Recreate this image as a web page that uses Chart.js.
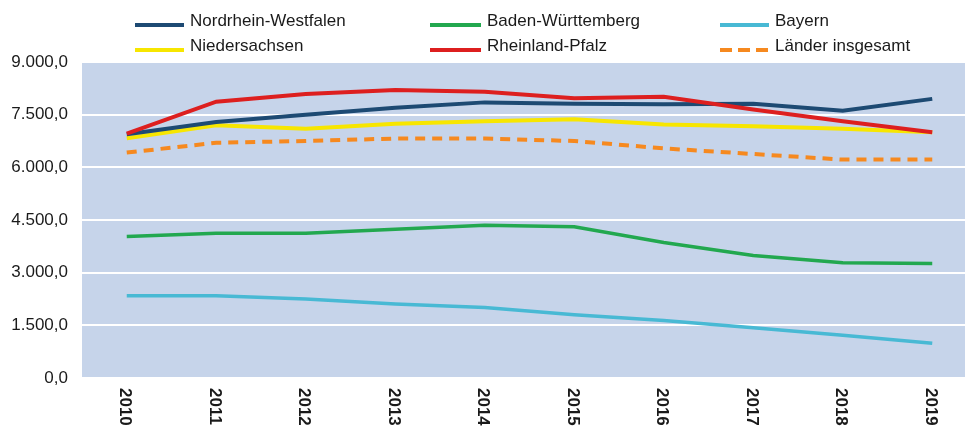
<!DOCTYPE html>
<html lang="de">
<head>
  <meta charset="UTF-8">
  <title>Länder</title>
  <script src="https://cdn.jsdelivr.net/npm/chart.js@4"></script>
  <style>
    html, body { margin: 0; padding: 0; background: #fff; overflow: hidden; }
    #wrap { position: relative; width: 965px; height: 427px; overflow: hidden; }
    #chart { position: absolute; left: 0; top: 0; }
    .lg-line { position: absolute; }
    .lg-text {
      position: absolute;
      font: 17px "Liberation Sans", Arial, sans-serif;
      line-height: 20px;
      color: #1a1a1a;
      white-space: nowrap;
    }
  </style>
</head>
<body>
  <div id="wrap">
    <canvas id="chart" width="977" height="428"></canvas>
    <div id="legend"></div>
  </div>

  <script>
    // values
    const years = ['2010', '2011', '2012', '2013', '2014', '2015', '2016', '2017', '2018', '2019'];
    const nrw = [6940, 7290, 7500, 7700, 7850, 7810, 7800, 7810, 7610, 7950];
    const bw = [4030, 4120, 4120, 4240, 4350, 4310, 3860, 3490, 3280, 3260];
    const bayern = [2340, 2340, 2250, 2110, 2010, 1800, 1640, 1430, 1220, 990];
    const nds = [6830, 7200, 7100, 7240, 7310, 7370, 7220, 7170, 7100, 7000];
    const rlp = [6960, 7870, 8090, 8200, 8150, 7970, 8010, 7650, 7310, 7000];
    const laender = [6420, 6700, 6750, 6820, 6820, 6750, 6540, 6380, 6220, 6220];
    const yTicks = [0, 1500, 3000, 4500, 6000, 7500, 9000];

    const FONT = '"Liberation Sans", Arial, sans-serif';

    function fmt(v) {
      // German style: 9.000,0
      const s = String(Math.round(v)).replace(/\B(?=(\d{3})+(?!\d))/g, '.');
      return s + ',0';
    }

    const datasets = [
      { label: 'Nordrhein-Westfalen', data: nrw, borderColor: '#1d4a73', borderWidth: 4, order: 1 },
      { label: 'Baden-Württemberg', data: bw, borderColor: '#22a84f', borderWidth: 3.5, order: 3 },
      { label: 'Bayern', data: bayern, borderColor: '#48b9d4', borderWidth: 3.5, order: 4 },
      { label: 'Niedersachsen', data: nds, borderColor: '#f7e600', borderWidth: 4, order: 2 },
      { label: 'Rheinland-Pfalz', data: rlp, borderColor: '#dd1f1f', borderWidth: 4, order: 0 },
      { label: 'Länder insgesamt', data: laender, borderColor: '#f6891f', borderWidth: 4, borderDash: [10, 7], order: 5 }
    ];
    datasets.forEach(d => { d.pointRadius = 0; d.tension = 0; d.fill = false; });

    // legend, 3 columns x 2 rows
    const legendSpots = [[135, 190, 21], [430, 487, 21], [720, 775, 21], [135, 190, 46], [430, 487, 46], [720, 775, 46]];
    const legend = document.getElementById('legend');
    datasets.forEach((d, i) => {
      const [lx, tx, cy] = legendSpots[i];
      const w = tx - lx - 6;
      const dash = d.borderDash ? ' stroke-dasharray="12,6"' : '';
      const svg = document.createElement('div');
      svg.className = 'lg-line';
      svg.style.left = lx + 'px';
      svg.style.top = (cy - 5) + 'px';
      svg.innerHTML = `<svg width="${w}" height="10"><line x1="0" y1="5" x2="${w}" y2="5" stroke="${d.borderColor}" stroke-width="4"${dash}/></svg>`;
      legend.appendChild(svg);
      const t = document.createElement('div');
      t.className = 'lg-text';
      t.style.left = tx + 'px';
      t.style.top = (cy - 10) + 'px';
      t.textContent = d.label;
      legend.appendChild(t);
    });

    const plotBg = {
      id: 'plotBg',
      beforeDraw(chart) {
        const a = chart.chartArea;
        chart.ctx.save();
        chart.ctx.fillStyle = '#c6d4ea';
        chart.ctx.fillRect(a.left, a.top, a.right - a.left, a.bottom - a.top);
        chart.ctx.restore();
      }
    };

    // year labels read top to bottom
    const yearLabels = {
      id: 'yearLabels',
      afterDraw(chart) {
        const ctx = chart.ctx;
        const xs = chart.scales.x;
        ctx.save();
        ctx.font = 'bold 17px ' + FONT;
        ctx.fillStyle = '#1a1a1a';
        ctx.textAlign = 'left';
        ctx.textBaseline = 'middle';
        years.forEach((y, i) => {
          ctx.save();
          ctx.translate(xs.getPixelForTick(i) - 2, chart.chartArea.bottom + 10);
          ctx.rotate(Math.PI / 2);
          ctx.fillText(y, 0, 0);
          ctx.restore();
        });
        ctx.restore();
      }
    };

    new Chart(document.getElementById('chart'), {
      type: 'line',
      data: { labels: years, datasets: datasets },
      options: {
        responsive: false,
        animation: false,
        layout: { padding: { top: 62, left: 0, right: 0, bottom: 0 } },
        plugins: { legend: { display: false }, tooltip: { enabled: false } },
        scales: {
          x: {
            offset: true,
            grid: { display: false },
            border: { display: false },
            ticks: {
              color: 'rgba(0,0,0,0)', autoSkip: false, minRotation: 90, maxRotation: 90,
              font: { family: FONT, size: 17, weight: 'bold' }
            },
            afterFit(s) { s.height = 50; }
          },
          y: {
            min: 0,
            max: 9000,
            afterBuildTicks(s) { s.ticks = yTicks.map(v => ({ value: v })); },
            grid: { color: '#ffffff', lineWidth: 2, drawTicks: false },
            border: { display: false },
            ticks: {
              padding: 14, color: '#1a1a1a',
              font: { family: FONT, size: 17 },
              callback: v => fmt(v)
            },
            afterFit(s) { s.width = 82; }
          }
        }
      },
      plugins: [plotBg, yearLabels]
    });
  </script>
</body>
</html>
